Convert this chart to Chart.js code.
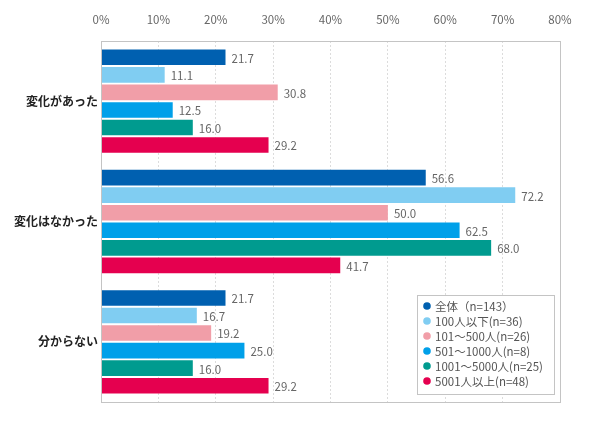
<!DOCTYPE html>
<html>
<head>
<meta charset="utf-8">
<script src="https://cdn.jsdelivr.net/npm/chart.js@4"></script>
<style>
html,body{margin:0;padding:0;background:#fff;}
#wrap{width:590px;height:421px;position:relative;}
</style>
</head>
<body>
<div id="wrap"><canvas id="c" width="590" height="421"></canvas></div>
<script>
const categories = ["変化があった", "変化はなかった", "分からない"];
const seriesNames = ["全体（n=143）", "100人以下(n=36)", "101～500人(n=26)", "501～1000人(n=8)", "1001～5000人(n=25)", "5001人以上(n=48)"];
const seriesColors = ["#0060B0", "#80CDF2", "#F19EA8", "#00A0E9", "#009B8F", "#E5004F"];
const vAll = [21.7, 56.6, 21.7];
const v100 = [11.1, 72.2, 16.7];
const v500 = [30.8, 50.0, 19.2];
const v1000 = [12.5, 62.5, 25.0];
const v5000 = [16.0, 68.0, 16.0];
const v5001 = [29.2, 41.7, 29.2];
const tickValues = [0, 10, 20, 30, 40, 50, 60, 70, 80];
const seriesValues = [vAll, v100, v500, v1000, v5000, v5001];

const FONT = '"Noto Sans CJK JP", "Noto Sans", sans-serif';

const datasets = seriesValues.map((vals, i) => ({
  label: seriesNames[i],
  data: vals,
  backgroundColor: seriesColors[i],
  borderWidth: 0,
  categoryPercentage: 0.875,
  barPercentage: 0.89
}));

const framePlugin = {
  id: 'frame',
  afterDraw(chart) {
    const ctx = chart.ctx, a = chart.chartArea;
    ctx.save();
    ctx.strokeStyle = '#c4c4c4';
    ctx.lineWidth = 1;
    ctx.strokeRect(Math.round(a.left) + 0.5, Math.round(a.top) + 0.5, Math.round(a.right - a.left), Math.round(a.bottom - a.top));
    ctx.restore();
  }
};

const valueLabels = {
  id: 'valueLabels',
  afterDatasetsDraw(chart) {
    const ctx = chart.ctx;
    ctx.save();
    ctx.font = '11.5px ' + FONT;
    ctx.fillStyle = '#666';
    ctx.textBaseline = 'middle';
    ctx.textAlign = 'left';
    chart.data.datasets.forEach((ds, i) => {
      chart.getDatasetMeta(i).data.forEach((bar, j) => {
        ctx.fillText(ds.data[j].toFixed(1), bar.x + 6, bar.y + 1);
      });
    });
    ctx.restore();
  }
};

const boxLegend = {
  id: 'boxLegend',
  afterDraw(chart) {
    const ctx = chart.ctx;
    const x0 = 417.5, y0 = 295.5, w = 137, h = 99;
    ctx.save();
    ctx.fillStyle = '#fff';
    ctx.fillRect(x0, y0, w, h);
    ctx.strokeStyle = '#c4c4c4';
    ctx.lineWidth = 1;
    ctx.strokeRect(x0, y0, w, h);
    ctx.font = '11.5px ' + FONT;
    ctx.textBaseline = 'middle';
    ctx.textAlign = 'left';
    chart.data.datasets.forEach((ds, i) => {
      const y = 306 + i * 15;
      ctx.fillStyle = ds.backgroundColor;
      ctx.beginPath();
      ctx.arc(427, y, 3.8, 0, Math.PI * 2);
      ctx.fill();
      ctx.fillStyle = '#555';
      ctx.fillText(ds.label, 435, y + 0.5);
    });
    ctx.restore();
  }
};

new Chart(document.getElementById('c'), {
  type: 'bar',
  data: { labels: categories, datasets },
  options: {
    indexAxis: 'y',
    responsive: false,
    animation: false,
    devicePixelRatio: 1,
    layout: { padding: { left: 0, right: 30, top: 0, bottom: 19 } },
    plugins: { legend: { display: false }, tooltip: { enabled: false } },
    scales: {
      x: {
        position: 'top',
        min: 0, max: 80,
        afterBuildTicks(s) { s.ticks = tickValues.map(v => ({ value: v })); },
        afterFit(s) { s.height = 41; },
        ticks: {
          callback: v => v + '%',
          color: '#666',
          font: { size: 11.5, family: FONT },
          padding: 14
        },
        grid: { color: '#dcdcdc', drawTicks: false },
        border: { display: false, dash: [2, 2] }
      },
      y: {
        afterFit(s) { s.width = 101; },
        ticks: {
          color: '#222',
          font: { size: 12, weight: 'bold', family: FONT },
          padding: 3
        },
        grid: { display: false, drawTicks: false },
        border: { display: false }
      }
    }
  },
  plugins: [framePlugin, valueLabels, boxLegend]
});
</script>
</body>
</html>
